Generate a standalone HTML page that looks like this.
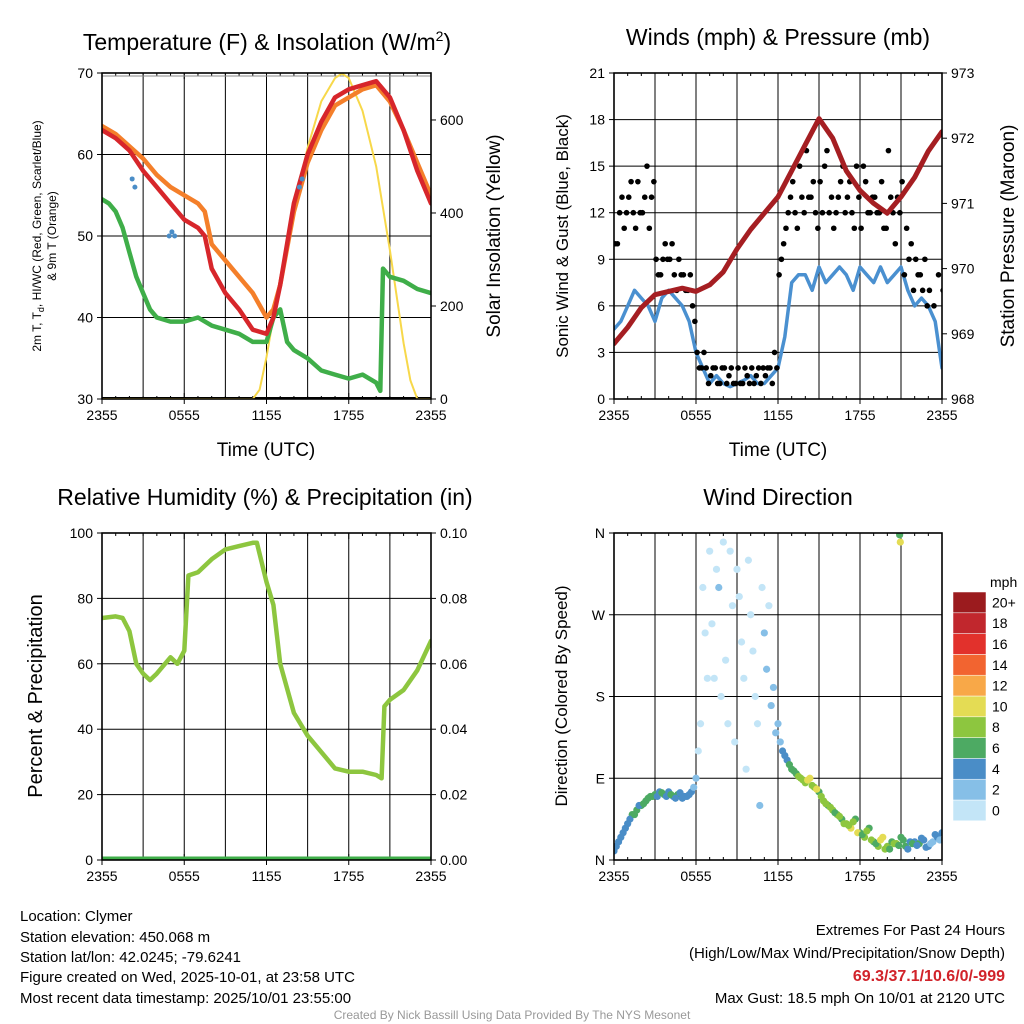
<!DOCTYPE html>
<html><head><meta charset="utf-8">
<style>
html,body{margin:0;padding:0;background:#fff;}
svg{display:block;font-family:"Liberation Sans",Arial,sans-serif;}
</style></head>
<body>
<svg id="chart" width="1024" height="1024" viewBox="0 0 1024 1024">
  <text x="267" y="50" font-size="23" text-anchor="middle">Temperature (F) &amp; Insolation (W/m<tspan font-size="14" dy="-9">2</tspan><tspan dy="9">)</tspan></text>
  <text x="778" y="45" font-size="23" text-anchor="middle">Winds (mph) &amp; Pressure (mb)</text>
  <text x="265" y="505" font-size="23" text-anchor="middle">Relative Humidity (%) &amp; Precipitation (in)</text>
  <text x="778" y="505" font-size="23" text-anchor="middle">Wind Direction</text>

  <text transform="translate(41,236) rotate(-90)" font-size="12" text-anchor="middle">2m T, T<tspan font-size="9" dy="3">d</tspan><tspan dy="-3">, HI/WC (Red, Green, Scarlet/Blue)</tspan></text>
  <text transform="translate(56,236) rotate(-90)" font-size="12" text-anchor="middle">&amp; 9m T (Orange)</text>
  <text transform="translate(500,236) rotate(-90)" font-size="19" text-anchor="middle">Solar Insolation (Yellow)</text>
  <text transform="translate(568,236) rotate(-90)" font-size="17" text-anchor="middle">Sonic Wind &amp; Gust (Blue, Black)</text>
  <text transform="translate(1014,236) rotate(-90)" font-size="19" text-anchor="middle">Station Pressure (Maroon)</text>
  <text transform="translate(42,696) rotate(-90)" font-size="20" text-anchor="middle">Percent &amp; Precipitation</text>
  <text transform="translate(567,696) rotate(-90)" font-size="17" text-anchor="middle">Direction (Colored By Speed)</text>
  <text x="266" y="456" font-size="19" text-anchor="middle">Time (UTC)</text>
  <text x="778" y="456" font-size="19" text-anchor="middle">Time (UTC)</text>

  <g font-size="15">
    <text x="20" y="921">Location: Clymer</text>
    <text x="20" y="942">Station elevation: 450.068 m</text>
    <text x="20" y="962">Station lat/lon: 42.0245; -79.6241</text>
    <text x="20" y="982">Figure created on Wed, 2025-10-01, at 23:58 UTC</text>
    <text x="20" y="1003">Most recent data timestamp: 2025/10/01 23:55:00</text>
  </g>
  <g font-size="15" text-anchor="end">
    <text x="1005" y="935">Extremes For Past 24 Hours</text>
    <text x="1005" y="958">(High/Low/Max Wind/Precipitation/Snow Depth)</text>
    <text x="1005" y="981" fill="#d1232a" font-weight="bold" font-size="16">69.3/37.1/10.6/0/-999</text>
    <text x="1005" y="1003">Max Gust: 18.5 mph On 10/01 at 2120 UTC</text>
  </g>
  <text x="512" y="1019" font-size="12" fill="#999" text-anchor="middle">Created By Nick Bassill Using Data Provided By The NYS Mesonet</text>
  <g id="layer"></g>
</svg>
<script>
// ---------- DATA ----------
const timeTicks = ["2355","0555","1155","1755","2355"];
// Panel 1
const tempHours = [0,1,2,3,4,5,6,7,7.5,8,9,10,11,12,12.5,13,14,15,16,17,18,19,20,21,22,23,24];
const temp2m   = [63,62,60.5,58,56,54,52,51,50,46,43,41,38.5,38,40,44,54,60,64,67,68,68.5,69,67,63,58,54];
const temp9m   = [63.5,62.5,61,59.5,57.5,56,55,54,53,49,47,45,43,40,41,44,53,59,63,66,67,68,68.5,66.5,63,59,55];
const dewHours = [0,0.5,1,1.5,2,2.5,3,3.5,4,5,6,7,8,9,10,11,12,12.5,13,13.5,14,15,16,17,18,19,20,20.3,20.5,21,22,23,24];
const dewPoint = [54.5,54,53,51,48,45,43,41,40,39.5,39.5,40,39,38.5,38,37,37,40,41,37,36,35,33.5,33,32.5,33,32,31,46,45,44.5,43.5,43];
const solarHours = [0,11,11.5,12,13,14,15,16,17,17.5,18,19,20,21,22,22.5,23,24];
const solarVals  = [0,0,20,90,260,410,540,640,690,700,690,620,500,320,120,40,0,0];
const hiwcHours = [2.2,2.4,4.9,5.1,5.3,14.4,14.6];
const hiwcVals  = [57,56,50,50.5,50,56,57];
// Panel 2
const windHours = [0,0.5,1,1.5,2,2.5,3,3.5,4,4.5,5,5.5,6,6.5,7,7.5,8,8.5,9,9.5,10,10.5,11,11.5,12,12.5,13,13.5,14,14.5,15,15.5,16,16.5,17,17.5,18,18.5,19,19.5,20,20.5,21,21.5,22,22.5,23,23.5,24];
const windVals  = [4.5,5,6,7,6.5,6,5,6.5,7,6.5,6,5,3,2,1,1.5,1,0.8,1,1.2,1.5,1,1,1.5,2,4,7.5,8,8,7,8.5,7.5,8,8.5,8,7,8.5,8,7.5,8.5,7.5,8,8.5,7,6,6.5,6,5,2];
const gustA = [10,12,11,13,12,14,12,15,13,9,8,10,9,8,9,8,7,6,3,2,2,1.5,2,1,2,1.5,1,2,1,1.5,2,1.5,1,1.5,2,3,8,10,12,14,11,13,16,13,12,14,15,12,11,13,15,13,12,15,11,14,12,13,12,11,16,12,13,14,11,10,9,8,9,7,6,8,7];
const gustB = [10,13,12,14,11,12,13,11,14,8,9,9,10,7,8,7,8,5,2,3,1,2,1,2,1,2,1,1,2,1,1,2,2,2,1,2,9,11,13,12,15,12,13,14,11,12,16,13,12,14,12,14,11,13,15,12,13,12,14,11,13,10,12,8,9,7,8,7,6];
const presHours = [0,1,2,3,4,5,6,7,8,9,10,11,12,13,14,15,16,17,18,19,20,21,22,23,24];
const presVals  = [968.85,969.1,969.4,969.6,969.65,969.7,969.65,969.75,969.95,970.3,970.6,970.85,971.1,971.5,971.9,972.3,972.0,971.5,971.2,971.0,970.85,971.1,971.4,971.8,972.1];
// Panel 3
const rhHours = [0,1,1.5,2,2.5,3,3.5,4,5,5.5,6,6.3,7,8,9,10,11,11.3,12,12.5,13,14,15,16,17,18,19,20,20.4,20.6,21,22,23,24];
const rhVals  = [74,74.5,74,70,60,57,55,57,62,60,64,87,88,92,95,96,97,97,85,78,60,45,38,33,28,27,27,26,25,47,49,52,58,67];
const precipHours = [0,24];
const precipVals  = [0,0];
// Panel 4
const dirA = [10,20,30,40,50,55,60,65,70,72,75,72,75,70,72,68,70,75,90,150,250,340,200,300,350,150,280,320,240,100,270,180,60,250,280,190,150,120,110,100,95,90,85,90,80,75,65,60,55,50,45,40,35,45,30,25,35,20,15,25,15,20,18,25,15,20,20,18,22,15,20,25,30];
const spdA = [4,5,4,5,6,6,6,7,6,6,5,6,5,4,6,5,4,5,2,1,1,1,1,2,1,1,1,1,1,1,1,1,3,2,1,3,3,4,5,6,7,8,9,10,8,7,8,7,8,9,7,8,10,7,7,8,6,6,9,10,8,7,9,6,7,5,5,6,4,4,3,4,4];
const dirB = [15,25,35,45,50,60,62,68,70,70,74,70,72,68,74,70,72,80,120,300,200,260,320,180,220,340,130,290,200,330,230,150,300,210,170,140,130,115,105,98,92,88,88,82,78,70,62,58,52,48,40,38,42,30,28,32,22,18,22,12,12,18,16,22,12,18,16,24,14,18,28,22];
const spdB = [4,4,5,5,6,5,6,6,7,5,6,4,6,5,4,4,5,3,1,1,1,1,1,1,1,1,1,1,1,1,1,1,1,2,2,3,3,5,6,7,8,9,10,9,11,8,9,8,7,8,9,9,8,10,7,9,8,7,10,8,7,8,6,6,5,7,5,4,5,3,4,3];
const dirExtraHours = [20.9,20.95];
const dirExtraVals = [358,350];
const spdExtraVals = [7,10];
const speedColors = ["#c3e5f7","#86bfe7","#4a8dc7","#4daa63","#8dc63f","#e4dc54","#f8a848","#f26430","#e2312c","#c1272d","#9b1b1e"];
const speedLabels = ["0","2","4","6","8","10","12","14","16","18","20+"];

// ---------- HELPERS ----------
const NS = "http://www.w3.org/2000/svg";
const layer = document.getElementById('layer');
function mk(tag, attrs, name, parent) {
  const e = document.createElementNS(NS, tag);
  for (const k in attrs) e.setAttribute(k, attrs[k]);
  
  
  (parent || layer).appendChild(e);
  return e;
}
function txt(x, y, s, attrs, name, parent) {
  const e = mk('text', Object.assign({x: x, y: y, 'font-size': 14}, attrs || {}), name, parent);
  e.textContent = s;
  return e;
}
function panel(P, name) {
  const g = mk('g', {}, name);
  P.g = g;
  P.x = h => P.x0 + h / 24 * (P.x1 - P.x0);
  P.yL = v => P.y1 - (v - P.lmin) / (P.lmax - P.lmin) * (P.y1 - P.y0);
  P.yR = v => P.y1 - (v - P.rmin) / (P.rmax - P.rmin) * (P.y1 - P.y0);
  for (let h = 3; h < 24; h += 3) mk('line', {x1: P.x(h), x2: P.x(h), y1: P.y0, y2: P.y1, stroke: '#000', 'stroke-width': 1}, 'vertical-gridline', g);
  P.lticks.forEach((v, i) => {
    const y = P.yL(v);
    if (i > 0 && i < P.lticks.length - 1) mk('line', {x1: P.x0, x2: P.x1, y1: y, y2: y, stroke: '#000', 'stroke-width': 1}, 'horizontal-gridline', g);
    mk('line', {x1: P.x0 - 5, x2: P.x0, y1: y, y2: y, stroke: '#000'}, 'left-tick', g);
    txt(P.x0 - 9, y + 5, P.llabels[i], {'text-anchor': 'end'}, 'left-tick-label', g);
  });
  P.rticks.forEach((v, i) => {
    const y = P.yR(v);
    mk('line', {x1: P.x1, x2: P.x1 + 5, y1: y, y2: y, stroke: '#000'}, 'right-tick', g);
    txt(P.x1 + 9, y + 5, P.rlabels[i], {'text-anchor': 'start'}, 'right-tick-label', g);
  });
  for (let h = 0; h <= 24; h++) {
    const len = h % 6 === 0 ? 6 : 3;
    mk('line', {x1: P.x(h), x2: P.x(h), y1: P.y1, y2: P.y1 - len, stroke: '#000'}, 'minor-x-tick', g);
    mk('line', {x1: P.x(h), x2: P.x(h), y1: P.y0, y2: P.y0 + len, stroke: '#000'}, 'minor-x-tick-top', g);
  }
  timeTicks.forEach((s, i) => {
    const x = P.x(i * 6);
    mk('line', {x1: x, x2: x, y1: P.y1, y2: P.y1 + 5, stroke: '#000'}, 'x-tick', g);
    txt(x, P.y1 + 21, s, {'text-anchor': 'middle'}, 'x-tick-label', g);
  });
  const clipId = name + '-clip';
  const cp = mk('clipPath', {id: clipId}, 'plot-clip', g);
  mk('rect', {x: P.x0, y: P.y0, width: P.x1 - P.x0, height: P.y1 - P.y0}, 'plot-clip-rect', cp);
  P.data = mk('g', {'clip-path': 'url(#' + clipId + ')'}, name + '-series', g);
}
function frame(P) {
  mk('rect', {x: P.x0, y: P.y0, width: P.x1 - P.x0, height: P.y1 - P.y0, fill: 'none', stroke: '#000', 'stroke-width': 1.6}, 'plot-frame', P.g);
}
function line(P, hs, vs, yf, color, w, name) {
  const d = hs.map((h, i) => (i ? 'L' : 'M') + P.x(h).toFixed(1) + ',' + yf(vs[i]).toFixed(1)).join('');
  return mk('path', {d: d, fill: 'none', stroke: color, 'stroke-width': w, 'stroke-linejoin': 'round', 'stroke-linecap': 'round'}, name, P.data);
}
function speedColor(s) { return speedColors[Math.min(10, Math.floor(s / 2))]; }

// ---------- PANEL 1 ----------
const P1 = {x0: 102, x1: 431, y0: 73, y1: 399, lmin: 30, lmax: 70, rmin: 0, rmax: 701,
  lticks: [30,40,50,60,70], llabels: ["30","40","50","60","70"], rticks: [0,200,400,600], rlabels: ["0","200","400","600"]};
panel(P1, 'temperature-panel');
mk('line', {x1: P1.x0, x2: P1.x1, y1: 76, y2: 76, stroke: '#888', 'stroke-width': 1}, 'seventy-reference-line', P1.data);
mk('line', {x1: P1.x0, x2: P1.x1, y1: 398, y2: 398, stroke: '#000', 'stroke-width': 2}, 'zero-insolation-line', P1.data);
line(P1, solarHours, solarVals, P1.yR, '#f7d84a', 2, 'solar-insolation-line');
line(P1, dewHours, dewPoint, P1.yL, '#3fae49', 4.5, 'dewpoint-line');
line(P1, tempHours, temp9m, P1.yL, '#f47f2a', 4.5, 'temp-9m-line');
line(P1, tempHours, temp2m, P1.yL, '#d7262b', 4.5, 'temp-2m-line');
hiwcHours.forEach((h, i) => {
  const c = mk('circle', {cx: P1.x(h), cy: P1.yL(hiwcVals[i]), r: 2.5, fill: '#4a8dc7'}, 'heat-index-point', P1.data);
});
frame(P1);

// ---------- PANEL 2 ----------
const P2 = {x0: 614, x1: 942, y0: 73, y1: 399, lmin: 0, lmax: 21, rmin: 968, rmax: 973,
  lticks: [0,3,6,9,12,15,18,21], llabels: ["0","3","6","9","12","15","18","21"], rticks: [968,969,970,971,972,973], rlabels: ["968","969","970","971","972","973"]};
panel(P2, 'winds-panel');
line(P2, windHours, windVals, P2.yL, '#4a90d0', 3.5, 'sonic-wind-line');
gustA.forEach((v, i) => {
  const c = mk('circle', {cx: P2.x(i / 3 + 0.08), cy: P2.yL(v), r: 2.8, fill: '#000'}, 'gust-point', P2.data);
});
gustB.forEach((v, i) => {
  const c = mk('circle', {cx: P2.x(i / 3 + 0.25), cy: P2.yL(v), r: 2.8, fill: '#000'}, 'gust-point', P2.data);
});
line(P2, presHours, presVals, P2.yR, '#a51e22', 5, 'pressure-line');
frame(P2);

// ---------- PANEL 3 ----------
const P3 = {x0: 102, x1: 431, y0: 533, y1: 860, lmin: 0, lmax: 100, rmin: 0, rmax: 0.1,
  lticks: [0,20,40,60,80,100], llabels: ["0","20","40","60","80","100"], rticks: [0,0.02,0.04,0.06,0.08,0.1], rlabels: ["0.00","0.02","0.04","0.06","0.08","0.10"]};
panel(P3, 'humidity-panel');
line(P3, rhHours, rhVals, P3.yL, '#8dc63f', 4.5, 'relative-humidity-line');
line(P3, precipHours, precipVals, P3.yR, '#3fae49', 7, 'precipitation-line');
frame(P3);

// ---------- PANEL 4 ----------
const P4 = {x0: 614, x1: 942, y0: 533, y1: 860, lmin: 0, lmax: 360, rmin: 0, rmax: 1,
  lticks: [0,90,180,270,360], llabels: ["N","E","S","W","N"], rticks: [], rlabels: []};
panel(P4, 'wind-direction-panel');
dirA.forEach((v, i) => {
  const c = mk('circle', {cx: P4.x(i / 3), cy: P4.yL(v), r: 3.6, fill: speedColor(spdA[i])}, 'direction-point', P4.data);
});
dirB.forEach((v, i) => {
  const c = mk('circle', {cx: P4.x(i / 3 + 1 / 6), cy: P4.yL(v), r: 3.6, fill: speedColor(spdB[i])}, 'direction-point', P4.data);
});
dirExtraHours.forEach((h, i) => {
  const c = mk('circle', {cx: P4.x(h), cy: P4.yL(dirExtraVals[i]), r: 3.6, fill: speedColor(spdExtraVals[i])}, 'direction-point', P4.data);
});
frame(P4);

// colorbar
const cb = mk('g', {}, 'speed-colorbar');
txt(990, 587, 'mph', {'text-anchor': 'start'}, 'colorbar-title', cb);
const cbTop = 592, cbH = 20.8;
speedColors.forEach((c, i) => {
  const y = cbTop + (10 - i) * cbH;
  mk('rect', {x: 953, y: y, width: 33, height: cbH, fill: c, stroke: '#fff', 'stroke-width': 0.5}, 'colorbar-box', cb);
  txt(992, y + cbH / 2 + 5, speedLabels[i], {'text-anchor': 'start'}, 'colorbar-label', cb);
});
</script>
</body></html>
